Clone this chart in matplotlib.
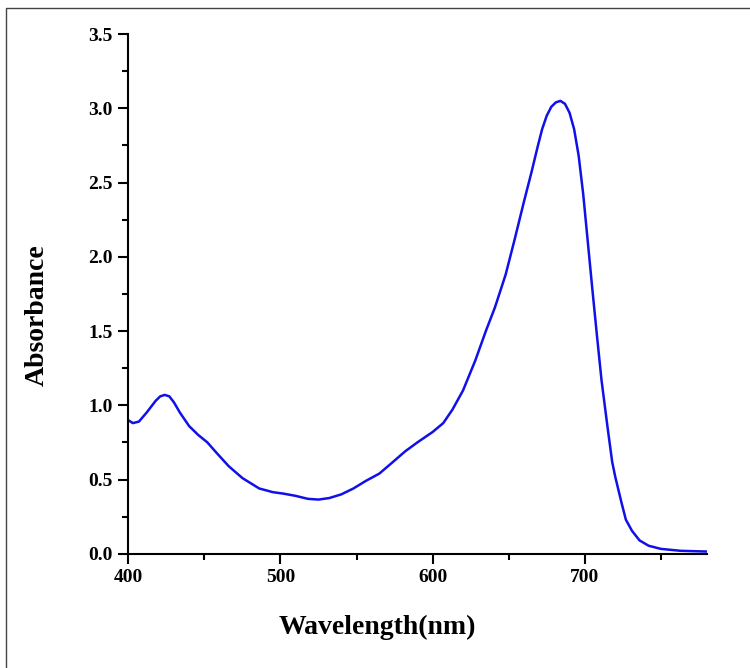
import matplotlib
matplotlib.use("Agg")
import matplotlib.pyplot as plt
from matplotlib.lines import Line2D
from matplotlib.ticker import MultipleLocator

# UV-Vis spectrum
wavelength = [400, 403, 407, 412, 418, 421, 424, 427, 430, 434, 440, 446, 452, 458, 466, 475,
              486, 495, 502, 510, 518, 525, 532, 540, 548, 556, 565, 573, 582, 590,
              600, 607, 613, 620, 628, 635, 641, 648, 654, 660, 665, 669, 672, 675, 678,
              681, 684, 687, 690, 693, 696, 699, 702, 705, 708, 711, 715, 718, 720, 724, 727,
              731, 736, 742, 750, 763, 780]
absorbance = [0.90, 0.88, 0.89, 0.95, 1.03, 1.06, 1.07, 1.06, 1.02, 0.95, 0.86, 0.80, 0.75, 0.68, 0.59, 0.51,
              0.44, 0.415, 0.405, 0.39, 0.37, 0.365, 0.375, 0.40, 0.44, 0.49, 0.54, 0.61, 0.69, 0.75,
              0.82, 0.88, 0.97, 1.10, 1.30, 1.50, 1.66, 1.88, 2.12, 2.37, 2.57, 2.74, 2.86, 2.95, 3.01,
              3.04, 3.05, 3.03, 2.97, 2.86, 2.68, 2.42, 2.10, 1.78, 1.47, 1.17, 0.85, 0.62, 0.52, 0.35, 0.23,
              0.155, 0.09, 0.054, 0.033, 0.02, 0.015]

plt.rcParams['font.family'] = 'Liberation Serif'
plt.rcParams['font.weight'] = 'bold'

fig = plt.figure(figsize=(7.5, 6.68), dpi=100)
ax = fig.add_axes([0.171, 0.171, 0.771, 0.778])

ax.plot(wavelength, absorbance, color='#1010e8', linewidth=1.8)

ax.set_xlim(400, 780)
ax.set_ylim(0, 3.5)
ax.xaxis.set_major_locator(MultipleLocator(100))
ax.xaxis.set_minor_locator(MultipleLocator(50))
ax.yaxis.set_major_locator(MultipleLocator(0.5))
ax.yaxis.set_minor_locator(MultipleLocator(0.25))
ax.yaxis.set_major_formatter(plt.FormatStrFormatter('%.1f'))

ax.spines['top'].set_visible(False)
ax.spines['right'].set_visible(False)
for s in ['left', 'bottom']:
    ax.spines[s].set_linewidth(1.5)
ax.tick_params(which='major', direction='out', length=7, width=1.5, labelsize=14, pad=4)
ax.tick_params(which='minor', direction='out', length=4, width=1.5)
for lab in ax.get_xticklabels() + ax.get_yticklabels():
    lab.set_fontweight('bold')

ax.set_xlabel('Wavelength(nm)', fontsize=20, fontweight='bold')
ax.set_ylabel('Absorbance', fontsize=20, fontweight='bold')
ax.xaxis.set_label_coords(0.43, -0.118)
ax.yaxis.set_label_coords(-0.135, 0.46)

# thin frame line on left and top of the image
fig.add_artist(Line2D([0.008, 0.008, 1.0], [0.0, 0.988, 0.988], color='#444444', linewidth=1.0))

fig.savefig('out.png', dpi=100, facecolor='white')
